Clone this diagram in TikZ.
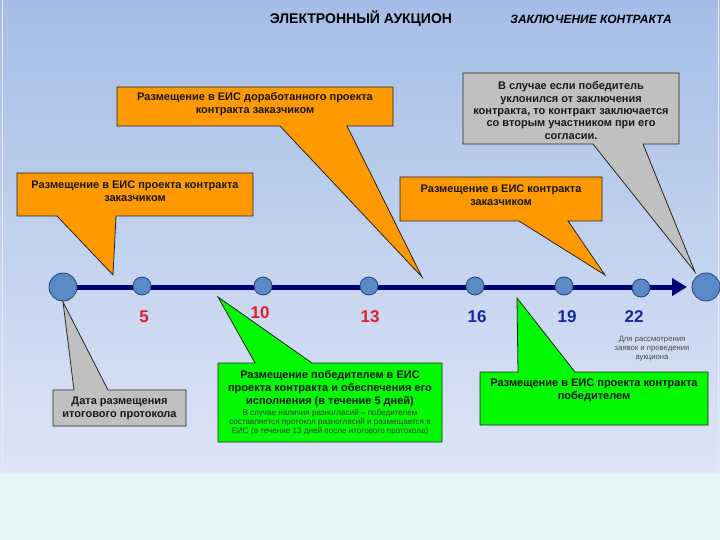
\documentclass[tikz,border=0pt]{standalone}
\usepackage{fontspec}
\setmainfont{Liberation Sans}
\usetikzlibrary{arrows.meta}
\definecolor{bgtop}{RGB}{165,189,230}
\definecolor{bgbot}{RGB}{221,229,246}
\definecolor{bgcyan}{RGB}{228,246,246}
\definecolor{orangebox}{RGB}{255,153,0}
\definecolor{greybox}{RGB}{192,192,192}
\definecolor{greenbox}{RGB}{0,250,0}
\definecolor{navyline}{RGB}{0,0,120}
\definecolor{dotblue}{RGB}{90,138,200}
\definecolor{dotedge}{RGB}{40,70,120}
\definecolor{numred}{RGB}{228,28,40}
\definecolor{numblue}{RGB}{28,38,150}
\begin{document}
\begin{tikzpicture}[x=1pt,y=-1pt,
  callout/.style={draw=black!85,line width=0.8pt,line join=miter},
  ctext/.style={font=\bfseries\fontsize{11}{13}\selectfont,align=center,text=black!90,inner sep=0pt},
  smalltext/.style={font=\fontsize{8.1}{9}\selectfont,align=center,text=black!75,inner sep=0pt},
  dotnode/.style={circle,draw=dotedge,line width=0.8pt,fill=dotblue,inner sep=0pt,minimum size=18pt},
  bigdot/.style={dotnode,minimum size=28pt},
  numred/.style={font=\bfseries\fontsize{17}{17}\selectfont,text=numred,inner sep=0pt},
  numblue/.style={font=\bfseries\fontsize{17}{17}\selectfont,text=numblue,inner sep=0pt}
]
\useasboundingbox (0,0) rectangle (720,540);
\fill[bgcyan] (0,0) rectangle (720,540);
\shade[top color=bgtop,bottom color=bgbot] (0,0) rectangle (720,472);
\draw[white!70!bgtop,line width=0.8pt] (2,0) -- (2,472) -- (718,472) -- (718,0);

% titles
\node[font=\bfseries\fontsize{14}{16}\selectfont,inner sep=0pt] (title) at (361,19) {ЭЛЕКТРОННЫЙ АУКЦИОН};
\node[font=\bfseries\itshape\fontsize{12}{14}\selectfont,inner sep=0pt] (subtitle) at (591,19) {ЗАКЛЮЧЕНИЕ КОНТРАКТА};

% timeline coordinates
\coordinate (p0) at (63,287);
\coordinate (p5) at (142,286);
\coordinate (p10) at (263,286);
\coordinate (p13) at (369,286);
\coordinate (p16) at (475,286);
\coordinate (p19) at (564,286);
\coordinate (p22) at (641,288);
\coordinate (pend) at (706,287);
\coordinate (arrowend) at (687,287);

\draw[navyline,line width=5pt,-{Triangle[length=15pt,width=17pt]}] (p0) -- (arrowend);

\node[bigdot] (d0) at (p0) {};
\node[dotnode] (d5) at (p5) {};
\node[dotnode] (d10) at (p10) {};
\node[dotnode] (d13) at (p13) {};
\node[dotnode] (d16) at (p16) {};
\node[dotnode] (d19) at (p19) {};
\node[dotnode] (d22) at (p22) {};
\node[bigdot] (dend) at (pend) {};

% numbers
\node[numred] (n5) at (144,317) {5};
\node[numred] (n10) at (260,313) {10};
\node[numred] (n13) at (370,317) {13};
\node[numblue] (n16) at (477,317) {16};
\node[numblue] (n19) at (567,317) {19};
\node[numblue] (n22) at (634,317) {22};
\node[smalltext,text=black!70,font=\fontsize{7.7}{9}\selectfont] (note22) at (652,349) {Для рассмотрения\\заявок и проведения\\аукциона};

% pointer tips
\coordinate (t1) at (113,275);
\coordinate (t2) at (422,277);
\coordinate (t3) at (605,275);
\coordinate (t4) at (695,272);
\coordinate (t5) at (63,302);
\coordinate (t6) at (218,297);
\coordinate (t7) at (517,298);

% callout 1
\draw[callout,fill=orangebox] (17,173) -- (253,173) -- (253,216) -- (116,216) -- (t1) -- (57,216) -- (17,216) -- cycle;
\node[ctext] (c1) at (135,191.5) {Размещение в ЕИС проекта контракта\\заказчиком};

% callout 2
\draw[callout,fill=orangebox] (117,87) -- (393,87) -- (393,126) -- (347,126) -- (t2) -- (280,126) -- (117,126) -- cycle;
\node[ctext] (c2) at (255,104) {Размещение в ЕИС доработанного проекта\\контракта заказчиком};

% callout 3
\draw[callout,fill=orangebox] (400,177) -- (602,177) -- (602,221) -- (568,221) -- (t3) -- (519,221) -- (400,221) -- cycle;
\node[ctext] (c3) at (501,195) {Размещение в ЕИС контракта\\заказчиком};

% callout 4
\draw[callout,fill=greybox] (463,73) -- (679,73) -- (679,144) -- (643,144) -- (t4) -- (593,144) -- (463,144) -- cycle;
\node[ctext,font=\bfseries\fontsize{11}{12.3}\selectfont] (c4) at (571,110.5) {В случае если победитель\\уклонился от заключения\\контракта, то контракт заключается\\со вторым участником при его\\согласии.};

% callout 5
\draw[callout,fill=greybox] (53,390) -- (74,390) -- (t5) -- (108,390) -- (186,390) -- (186,426) -- (53,426) -- cycle;
\node[ctext] (c5) at (119.5,408) {Дата размещения\\итогового протокола};

% callout 6 (green)
\draw[callout,fill=greenbox] (218,363) -- (255,363) -- (t6) -- (312,363) -- (442,363) -- (442,442) -- (218,442) -- cycle;
\node[ctext] (c6) at (330,389) {Размещение победителем в ЕИС\\проекта контракта и обеспечения его\\исполнения (в течение 5 дней)};
\node[smalltext] (c6b) at (330,422) {В случае наличия разногласий – победителем\\составляется протокол разногласий и размещается в\\ЕИС (в течение 13 дней после итогового протокола)};

% callout 7 (green)
\draw[callout,fill=greenbox] (480,372) -- (518,372) -- (t7) -- (575,372) -- (708,372) -- (708,425) -- (480,425) -- cycle;
\node[ctext] (c7) at (594,390) {Размещение в ЕИС проекта контракта\\победителем};
\end{tikzpicture}
\end{document}
